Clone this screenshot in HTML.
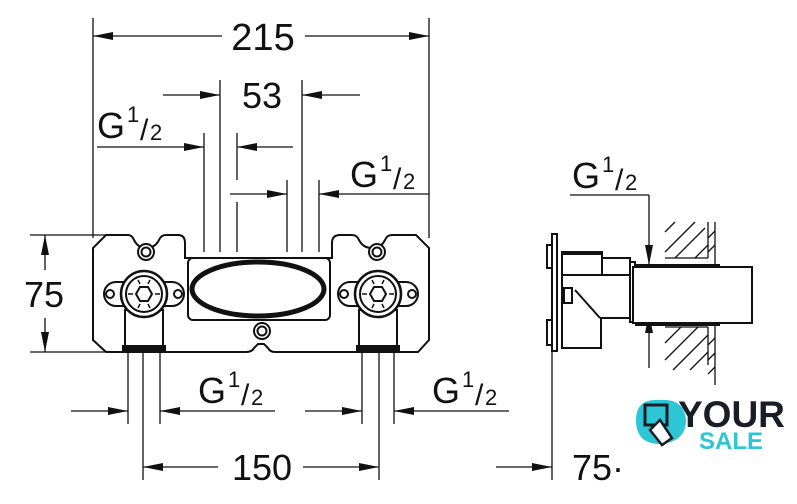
<!DOCTYPE html>
<html><head><meta charset="utf-8"><style>
html,body{margin:0;padding:0;background:#fff;}
svg{display:block;}
text{font-family:"Liberation Sans",sans-serif;fill:#111;}
</style></head><body>
<svg width="797" height="504" viewBox="0 0 797 504" xmlns="http://www.w3.org/2000/svg">
<defs>
<marker id="a" viewBox="0 0 20 8" refX="20" refY="4" markerWidth="20" markerHeight="8" markerUnits="userSpaceOnUse" orient="auto"><path d="M0,0 L20,4 L0,8 Z" fill="#111"/></marker>
</defs>
<g stroke="#111" stroke-width="1.3" fill="none">
<line x1="93" y1="18" x2="93" y2="238"/><line x1="429" y1="18" x2="429" y2="238"/>
<line x1="222" y1="36" x2="93" y2="36" marker-end="url(#a)"/>
<line x1="305" y1="36" x2="429" y2="36" marker-end="url(#a)"/>
<line x1="220" y1="80" x2="220" y2="252"/><line x1="302" y1="80" x2="302" y2="252"/>
<line x1="163" y1="95" x2="220" y2="95" marker-end="url(#a)"/>
<line x1="360" y1="95" x2="302" y2="95" marker-end="url(#a)"/>
<line x1="204" y1="133" x2="204" y2="252"/><line x1="237" y1="133" x2="237" y2="180"/><line x1="237" y1="202" x2="237" y2="252"/>
<line x1="97" y1="147" x2="204" y2="147" marker-end="url(#a)"/>
<line x1="293" y1="147" x2="237" y2="147" marker-end="url(#a)"/>
<line x1="287" y1="180" x2="287" y2="252"/><line x1="319" y1="180" x2="319" y2="252"/>
<line x1="429" y1="194" x2="319" y2="194" marker-end="url(#a)"/>
<line x1="230" y1="194" x2="287" y2="194" marker-end="url(#a)"/>
<line x1="30" y1="235" x2="105" y2="235"/><line x1="30" y1="352" x2="105" y2="352"/>
<line x1="45" y1="270" x2="45" y2="235" marker-end="url(#a)"/>
<line x1="45" y1="318" x2="45" y2="352" marker-end="url(#a)"/>
<line x1="128" y1="352" x2="128" y2="424"/><line x1="143" y1="352" x2="143" y2="480"/><line x1="160" y1="352" x2="160" y2="424"/>
<line x1="362" y1="352" x2="362" y2="424"/><line x1="379" y1="352" x2="379" y2="480"/><line x1="394" y1="352" x2="394" y2="424"/>
<line x1="71" y1="411" x2="128" y2="411" marker-end="url(#a)"/>
<line x1="275" y1="411" x2="160" y2="411" marker-end="url(#a)"/>
<line x1="305" y1="411" x2="362" y2="411" marker-end="url(#a)"/>
<line x1="509" y1="411" x2="394" y2="411" marker-end="url(#a)"/>
<line x1="218" y1="467" x2="143" y2="467" marker-end="url(#a)"/>
<line x1="303" y1="467" x2="379" y2="467" marker-end="url(#a)"/>
</g>
<g stroke="#111" stroke-width="2" fill="#fff">
<path d="M106,235 L128,235 Q132,235 134,240 Q138,248 146,248 Q155,248 159,240 Q161,235 166,235 L178,235 Q185,235 185,243 L185,258 L332,258 L332,243 Q332,235 340,235 L352,235 Q357,235 359,240 Q363,248 372,248 Q381,248 385,240 Q387,235 392,235 L416,235 L429,248 L429,340 L418,352 L275,352 Q270,352 268,348 L264,344 L258,344 L254,348 Q252,352 246,352 L106,352 L93,340 L93,248 Z"/>
<rect x="188" y="258" width="142" height="62" rx="5"/>
<ellipse cx="258" cy="289" rx="66" ry="27" fill="none" stroke-width="5"/>
<circle cx="146" cy="252" r="8"/><circle cx="146" cy="252" r="4.5"/>
<circle cx="377" cy="252" r="8"/><circle cx="377" cy="252" r="4.5"/>
<circle cx="262" cy="331" r="8"/><circle cx="262" cy="331" r="4.5"/>
<rect x="125" y="310" width="38" height="42"/>
<rect x="359" y="310" width="38" height="42"/>
<rect x="123" y="346" width="42" height="5" fill="#111"/>
<rect x="357" y="346" width="42" height="5" fill="#111"/>
<rect x="104" y="282" width="80" height="24" rx="12"/>
<rect x="338" y="282" width="80" height="24" rx="12"/>
<circle cx="110" cy="294" r="4"/><circle cx="178" cy="294" r="4"/>
<circle cx="344" cy="294" r="4"/><circle cx="412" cy="294" r="4"/>
<circle cx="144" cy="294" r="23" stroke-width="2.5"/><circle cx="144" cy="294" r="18"/>
<circle cx="378" cy="294" r="23" stroke-width="2.5"/><circle cx="378" cy="294" r="18"/>
<polygon points="136,294 140,287 148,287 152,294 148,301 140,301"/>
<polygon points="370,294 374,287 382,287 386,294 382,301 374,301"/>
</g>
<g stroke="#111" stroke-width="1.5">
<path d="M128,294 L133,294 M155,294 L160,294 M138,280 L140,284 M150,280 L148,284 M138,308 L140,304 M150,308 L148,304"/>
<path d="M362,294 L367,294 M389,294 L394,294 M372,280 L374,284 M384,280 L382,284 M372,308 L374,304 M384,308 L382,304"/>
</g>
<g stroke="#111" stroke-width="1.3" fill="none">
<line x1="552" y1="350" x2="552" y2="480"/>
<line x1="496" y1="467" x2="552" y2="467" marker-end="url(#a)"/>
<line x1="570" y1="195" x2="649" y2="195"/>
<line x1="649" y1="195" x2="649" y2="265" marker-end="url(#a)"/>
<line x1="649" y1="368" x2="649" y2="313" marker-end="url(#a)"/>
<line x1="649" y1="280" x2="663" y2="280"/><line x1="649" y1="311" x2="663" y2="311"/>
<line x1="708" y1="222" x2="708" y2="258"/><line x1="708" y1="327" x2="708" y2="365"/>
<line x1="715" y1="222" x2="715" y2="385"/>
<line x1="665" y1="258" x2="708" y2="258"/><line x1="665" y1="327" x2="708" y2="327"/>
<path d="M665,232 L675,222 M665,252 L695,222 M675,258 L705,228 M695,258 L708,245 M708,238 L715,231 M708,252 L715,245 M665,343 L681,327 M665,360 L698,327 M673,370 L708,335 M690,370 L708,352 M708,345 L715,338 M708,360 L715,353 M708,374 L715,367"/>
</g>
<g stroke="#111" stroke-width="2" fill="#fff">
<rect x="552" y="234" width="5" height="117"/>
<rect x="547" y="245" width="5" height="23"/><rect x="547" y="320" width="5" height="25"/>
<path d="M562,275 L630,275 L630,318 L601,318 L601,348 L562,348 Z"/>
<rect x="562" y="252" width="40" height="23"/><rect x="602" y="258" width="28" height="17"/>
<line x1="562" y1="253" x2="602" y2="253" stroke-width="4"/>
<line x1="575" y1="290" x2="600" y2="318"/>
<rect x="564" y="288" width="8" height="15"/>
<rect x="630" y="262" width="5" height="60"/>
<rect x="633" y="267" width="119" height="56"/>
<line x1="635" y1="265" x2="720" y2="265"/><line x1="635" y1="325" x2="720" y2="325"/>
</g>
<path d="M636,420 Q636,398 660,400 Q684,398 686,420 Q686,442 660,444 Q636,444 636,420 Z" fill="#2cc6d6"/>
<rect x="645" y="405" width="22" height="20" fill="none" stroke="#1a1d26" stroke-width="3"/>
<path d="M650,430 L660,420 L672,438 L662,445 Z" fill="#fff" stroke="#1a1d26" stroke-width="2.5"/>
<text x="678" y="427" font-size="37" font-weight="bold" style="fill:#1a1d26">YOUR</text>
<text x="699" y="449" font-size="24" font-weight="bold" style="fill:#2cc6d6">SALE</text>
<g>
<rect x="222" y="20" width="82" height="34" fill="#fff"/>
<text x="263" y="50" font-size="38" text-anchor="middle">215</text>
<text x="262" y="108" font-size="36" text-anchor="middle">53</text>
<text x="97" y="138" font-size="36">G</text><text x="127" y="122" font-size="22">1</text><text x="140" y="140" font-size="30">/</text><text x="150" y="140" font-size="22">2</text>
<text x="350" y="187" font-size="36">G</text><text x="380" y="171" font-size="22">1</text><text x="393" y="189" font-size="30">/</text><text x="403" y="189" font-size="22">2</text>
<text x="572" y="188" font-size="36">G</text><text x="602" y="172" font-size="22">1</text><text x="615" y="190" font-size="30">/</text><text x="625" y="190" font-size="22">2</text>
<text x="198" y="403" font-size="36">G</text><text x="228" y="387" font-size="22">1</text><text x="241" y="405" font-size="30">/</text><text x="251" y="405" font-size="22">2</text>
<text x="432" y="403" font-size="36">G</text><text x="462" y="387" font-size="22">1</text><text x="475" y="405" font-size="30">/</text><text x="485" y="405" font-size="22">2</text>
<text x="24" y="307" font-size="36">75</text>
<text x="262" y="480" font-size="36" text-anchor="middle">150</text>
<text x="572" y="480" font-size="36">75·</text>
</g>
</svg>
</body></html>
